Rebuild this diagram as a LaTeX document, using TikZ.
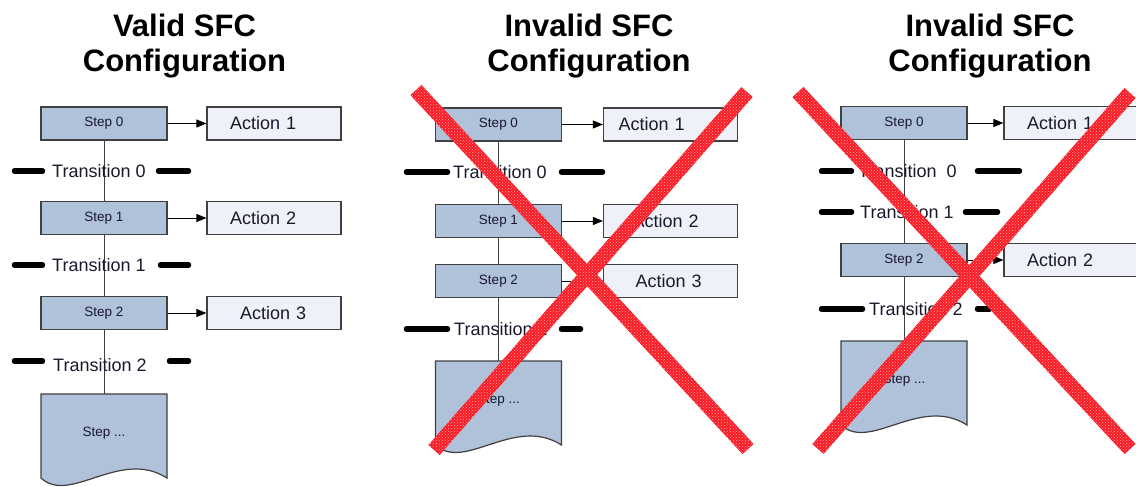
\documentclass[tikz,border=0pt]{standalone}
\usepackage{fontspec}
\setmainfont{Liberation Sans}
\usetikzlibrary{arrows.meta,calc,patterns}
\definecolor{stepfill}{RGB}{176,193,218}
\definecolor{actfill}{RGB}{238,241,247}
\definecolor{edgec}{RGB}{64,64,64}
\definecolor{txt}{RGB}{25,25,45}
\definecolor{xred}{RGB}{250,25,35}
\definecolor{xdot}{RGB}{255,175,175}
\newcommand\mydoc[3]{%
  \filldraw[docst] (#1,#2) -- ({#1+126},#2) -- ({#1+126},{#2+84})
    .. controls ({#1+79},{#2+54}) and ({#1+29},{#2+111}) .. (#1,{#2+84}) -- cycle;
  \coordinate (#3) at ({#1+63},#2);
  \node[steptxt, anchor=base] at ({#1+63},{#2+42.7}) {Step ...};}
\newcommand\mybar[2]{%
  \fill[xbar] ($(#1)!7.5pt!90:(#2)$) -- ($(#2)!7.5pt!-90:(#1)$) -- ($(#2)!7.5pt!90:(#1)$) -- ($(#1)!7.5pt!-90:(#2)$) -- cycle;}
\begin{document}
\begin{tikzpicture}[x=1pt,y=-1pt,
  stepbox/.style={draw=edgec, line width=1.2pt, fill=stepfill, minimum width=126pt, minimum height=33pt, inner sep=0pt, font=\fontsize{13.5}{15}\selectfont, text=txt},
  steptxt/.style={font=\fontsize{13.5}{15}\selectfont, text=txt, inner sep=0pt},
  docst/.style={draw=edgec, line width=1.2pt, fill=stepfill},
  actbox/.style 2 args={draw=edgec, line width=1.2pt, fill=actfill, minimum height=33pt, inner ysep=0pt, inner xsep=#1, text width=#2, align=left, font=\fontsize{18}{20}\selectfont, text=txt},
  trtxt/.style={font=\fontsize{18}{20}\selectfont, text=txt, inner sep=0pt, anchor=base west},
  title/.style={font=\fontsize{31}{36}\selectfont\bfseries, text=black, inner sep=0pt, anchor=base},
  tbar/.style={line width=5.5pt, line cap=round, black},
  conn/.style={draw=edgec, line width=1pt},
  arr/.style={draw=black, line width=1pt, -{Triangle[length=10pt,width=8pt]}},
  xbar/.style={fill=xred, postaction={pattern=crosshatch dots, pattern color=xdot}}
]
\clip (0,0) rectangle (1136,487);
\fill[white] (0,0) rectangle (1136,487);

% ---------- Panel 1 ----------
\node[title] (t1a) at (184.5,37) {Valid SFC};
\node[title] (t1b) at (184.5,72) {Configuration};
\node[stepbox] (a0) at (104,123.5) {Step 0};
\node[actbox={23pt}{88pt}] (aa1) at (274,123.5) {Action 1};
\node[stepbox] (a1) at (104,218) {Step 1};
\node[actbox={23pt}{88pt}] (aa2) at (274,218) {Action 2};
\node[stepbox] (a2) at (104,313) {Step 2};
\node[actbox={33pt}{68pt}] (aa3) at (274,313) {Action 3};
\mydoc{41}{394}{ad}
\draw[conn] (a0.south) -- (a1.north);
\draw[conn] (a1.south) -- (a2.north);
\draw[conn] (a2.south) -- (ad);
\draw[arr] (a0.east) -- (aa1.west);
\draw[arr] (a1.east) -- (aa2.west);
\draw[arr] (a2.east) -- (aa3.west);
\draw[tbar] (14.5,171) -- (42.5,171);
\draw[tbar] (158.5,171) -- (188.5,171);
\node[trtxt] (at0) at (52,177.5) {Transition 0};
\draw[tbar] (14.5,265) -- (42.5,265);
\draw[tbar] (160.5,265) -- (188.5,265);
\node[trtxt] (at1) at (52,271.5) {Transition 1};
\draw[tbar] (14.5,361) -- (42.5,361);
\draw[tbar] (169.5,361) -- (188.5,361);
\node[trtxt] (at2) at (53,371.5) {Transition 2};

% ---------- Panel 2 ----------
\node[title] (t2a) at (589,37) {Invalid SFC};
\node[title] (t2b) at (589,72) {Configuration};
\node[stepbox] (b0) at (498.5,124.5) {Step 0};
\node[actbox={15pt}{104pt}] (ba1) at (670.5,124.5) {Action 1};
\node[stepbox] (b1) at (498.5,221) {Step 1};
\node[actbox={29pt}{76pt}] (ba2) at (670.5,221) {Action 2};
\node[stepbox] (b2) at (498.5,281) {Step 2};
\node[actbox={32pt}{70pt}] (ba3) at (670.5,281) {Action 3};
\mydoc{435.5}{361}{bd}
\draw[conn] (b0.south) -- (b1.north);
\draw[conn] (b1.south) -- (b2.north);
\draw[conn] (b2.south) -- (bd);
\draw[arr] (b0.east) -- (ba1.west);
\draw[arr] (b1.east) -- (ba2.west);
\draw[arr] (b2.east) -- (ba3.west);
\draw[tbar] (406.5,172) -- (447.5,172);
\draw[tbar] (561.5,172) -- (602.5,172);
\node[trtxt] (bt0) at (453,178.5) {Transition 0};
\draw[tbar] (406.5,329) -- (447.5,329);
\draw[tbar] (561.5,329) -- (580.5,329);
\node[trtxt] (bt2) at (454,335.5) {Transition 2};
\coordinate (bx1) at (416,90);
\coordinate (bx2) at (748,449);
\coordinate (bx3) at (747,92);
\coordinate (bx4) at (434,450);
\mybar{bx1}{bx2}
\mybar{bx3}{bx4}

% ---------- Panel 3 ----------
\node[title] (t3a) at (990,37) {Invalid SFC};
\node[title] (t3b) at (990,72) {Configuration};
\node[stepbox] (c0) at (904,123) {Step 0};
\node[actbox={23pt}{88pt}] (ca1) at (1071,123) {Action 1};
\node[stepbox] (c2) at (904,260) {Step 2};
\node[actbox={23pt}{88pt}] (ca2) at (1071,260) {Action 2};
\mydoc{841}{341}{cd}
\draw[conn] (c0.south) -- (c2.north);
\draw[conn] (c2.south) -- (cd);
\draw[arr] (c0.east) -- (ca1.west);
\draw[arr] (c2.east) -- (ca2.west);
\draw[tbar] (821.5,171) -- (851.5,171);
\draw[tbar] (977.5,171) -- (1019.5,171);
\node[trtxt] (ct0) at (858,177.5) {Transition\ \ 0};
\draw[tbar] (821.5,212) -- (851.5,212);
\draw[tbar] (965.5,212) -- (997.5,212);
\node[trtxt] (ct1) at (860,218.5) {Transition 1};
\draw[tbar] (821.5,309) -- (862.5,309);
\draw[tbar] (977.5,309) -- (989.5,309);
\node[trtxt] (ct2) at (869,315.5) {Transition 2};
\coordinate (cx1) at (798,92);
\coordinate (cx2) at (1130,449);
\coordinate (cx3) at (1130,93);
\coordinate (cx4) at (818,449);
\mybar{cx1}{cx2}
\mybar{cx3}{cx4}
\end{tikzpicture}
\end{document}
